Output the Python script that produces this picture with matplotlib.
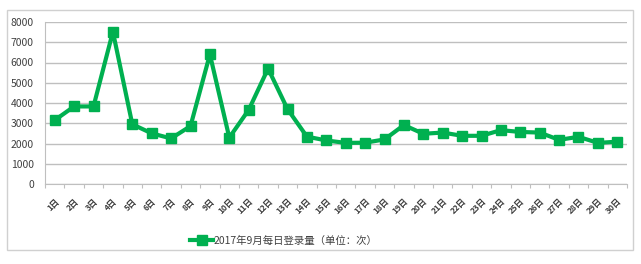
import matplotlib
matplotlib.use("Agg")
import matplotlib.pyplot as plt
from matplotlib.patches import Rectangle
import numpy as np

plt.rcParams['font.family'] = ['Noto Sans CJK SC', 'DejaVu Sans']

days = [f"{i}日" for i in range(1, 31)]
logins = [3150, 3830, 3830, 7520, 2950, 2500, 2250, 2860, 6400, 2290,
          3660, 5700, 3700, 2340, 2150, 2030, 2040, 2200, 2910, 2480,
          2540, 2380, 2380, 2660, 2570, 2540, 2180, 2330, 2030, 2090]
series_label = "2017年9月每日登录量（单位：次）"
yticks = list(range(0, 8001, 1000))

green = "#00B050"
gray = "#BFBFBF"

fig = plt.figure(figsize=(6.41, 2.64), dpi=100)
fig.patches.append(Rectangle((7/641, 1-250/264), 626/641, 240/264,
                             transform=fig.transFigure, fill=False,
                             edgecolor="#D0D0D0", linewidth=1.0))
ax = fig.add_axes([45/641, 1-184/264, 582/641, 162/264])

x = np.arange(1, len(days) + 1)
line, = ax.plot(x, logins, color=green, linewidth=3, marker='s',
                markersize=7.5, label=series_label, zorder=3)

ax.set_xlim(0.5, len(days) + 0.5)
ax.set_ylim(0, 8000)
ax.set_yticks(yticks)
ax.set_yticklabels([str(v) for v in yticks], fontsize=7.5, color="#404040")
ax.tick_params(axis='y', length=0, pad=8)
ax.yaxis.grid(True, color=gray, linewidth=1)
ax.set_axisbelow(True)

ax.set_xticks(np.arange(0.5, len(days) + 1, 1.0), minor=False)
ax.set_xticklabels([])
ax.tick_params(axis='x', which='major', length=3, color=gray, direction='out')
ax.set_xticks(x, minor=True)
ax.set_xticklabels(days, minor=True, rotation=45, ha='right',
                   rotation_mode='anchor', fontsize=6, fontweight='bold',
                   color="#404040")
ax.tick_params(axis='x', which='minor', length=0, pad=9)

for s in ['top', 'right']:
    ax.spines[s].set_visible(False)
ax.spines['left'].set_color(gray)
ax.spines['bottom'].set_color(gray)

leg = fig.legend(handles=[line], loc='center', bbox_to_anchor=(284/641, 1-241/264),
                 frameon=False, fontsize=7.5, handlelength=2.2, handletextpad=0.1,
                 markerscale=0.9)
for t in leg.get_texts():
    t.set_color("#404040")

fig.savefig("out.png", dpi=100)
